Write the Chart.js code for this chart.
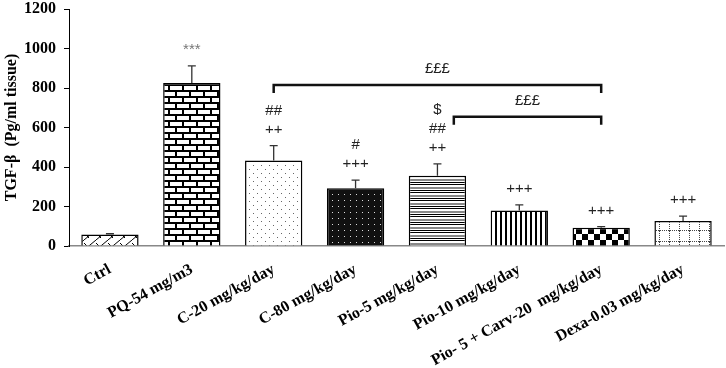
<!DOCTYPE html>
<html lang="en">
  <head>
    <meta charset="UTF-8">
    <title>TGF-beta bar chart</title>
    <script src="https://cdn.jsdelivr.net/npm/chart.js"></script>
    <style>
      html, body { margin: 0; padding: 0; background: #fff; }
      #wrap { width: 726px; height: 368px; }
    </style>
  </head>
  <body>
    <div id="wrap"><canvas id="myChart"></canvas></div>
    <script>
      // Data
      const groups = ["Ctrl", "PQ-54 mg/m3", "C-20 mg/kg/day", "C-80 mg/kg/day", "Pio-5 mg/kg/day",
                      "Pio-10 mg/kg/day", "Pio- 5 + Carv-20  mg/kg/day", "Dexa-0.03 mg/kg/day"];
      const means = [58, 825, 433, 292, 356, 180, 92, 127];
      const errors = [4, 87, 75, 42, 60, 28, 6, 24];
      // marks above each bar, listed bottom to top
      const marks = [[], ["***"], ["++", "##"], ["+++", "#"], ["++", "##", "$"], ["+++"], ["+++"], ["+++"]];
      const bracketFrom = [2, 4.2];
      const bracketTo = [6, 6];
      const bracketLevel = [815, 655];
      const bracketText = ["£££", "£££"];
      const yTicks = [0, 200, 400, 600, 800, 1000, 1200];

      const serif = "'Times New Roman', 'Liberation Serif', serif";
      const sans = "'Liberation Sans', 'DejaVu Sans', sans-serif";

      function tile(w, h, draw) {
        const c = document.createElement("canvas");
        c.width = w; c.height = h;
        const g = c.getContext("2d");
        g.fillStyle = "#fff";
        g.fillRect(0, 0, w, h);
        draw(g);
        return document.createElement("canvas").getContext("2d").createPattern(c, "repeat");
      }

      // one fill per bar, following the picture
      const fills = [
        tile(12, 10, g => { // weave / zigzag
          g.strokeStyle = "#000"; g.lineWidth = 1;
          g.beginPath(); g.moveTo(0, 10); g.lineTo(12, 0); g.stroke();
          g.beginPath(); g.moveTo(0, 3); g.lineTo(5, 8); g.stroke();
        }),
        tile(14, 12, g => { // bricks
          g.fillStyle = "#000";
          g.fillRect(0, 0, 14, 2); g.fillRect(0, 6, 14, 2);
          g.fillRect(0, 0, 2, 6); g.fillRect(7, 6, 2, 6);
        }),
        tile(8, 8, g => { // sparse dots
          g.fillStyle = "#666";
          g.fillRect(1, 1, 1, 1); g.fillRect(5, 5, 1, 1);
        }),
        tile(6, 6, g => { // black with white dots
          g.fillStyle = "#111"; g.fillRect(0, 0, 6, 6);
          g.fillStyle = "#ddd"; g.fillRect(2, 2, 1, 1);
        }),
        tile(6, 8, g => { // horizontal stripes
          g.fillStyle = "#000"; g.fillRect(0, 0, 6, 1);
          g.fillStyle = "#888"; g.fillRect(0, 3, 6, 2);
          g.fillStyle = "#000"; g.fillRect(0, 6, 6, 1);
        }),
        tile(5, 4, g => { // vertical stripes
          g.fillStyle = "#000"; g.fillRect(0, 0, 2, 4);
        }),
        tile(12, 12, g => { // checkerboard
          g.fillStyle = "#000"; g.fillRect(0, 0, 6, 6); g.fillRect(6, 6, 6, 6);
        }),
        tile(10, 11, g => { // dotted grid
          g.fillStyle = "#444";
          for (let i = 0; i < 10; i += 2) g.fillRect(i, 10, 1, 1);
          for (let j = 0; j < 11; j += 2) g.fillRect(9, j, 1, 1);
        })
      ];

      const extras = {
        id: "extras",
        afterDatasetsDraw(chart) {
          const ctx = chart.ctx;
          const x = chart.scales.x, y = chart.scales.y;
          ctx.save();
          // error bars (upper only)
          ctx.strokeStyle = "#333"; ctx.lineWidth = 1.3;
          means.forEach((m, i) => {
            const px = x.getPixelForValue(i);
            const top = y.getPixelForValue(m + errors[i]);
            ctx.beginPath();
            ctx.moveTo(px, y.getPixelForValue(m)); ctx.lineTo(px, top);
            ctx.moveTo(px - 4, top); ctx.lineTo(px + 4, top);
            ctx.stroke();
            // significance marks
            ctx.font = "15px " + sans;
            ctx.textAlign = "center"; ctx.textBaseline = "middle";
            marks[i].forEach((t, k) => {
              ctx.fillStyle = t === "***" ? "#777" : "#222";
              ctx.fillText(t, px, top - 16 - k * 19);
            });
          });
          // brackets
          ctx.strokeStyle = "#111"; ctx.lineWidth = 2.5;
          bracketFrom.forEach((f, i) => {
            const x1 = x.getPixelForValue(f), x2 = x.getPixelForValue(bracketTo[i]);
            const py = y.getPixelForValue(bracketLevel[i]);
            ctx.beginPath();
            ctx.moveTo(x1, py + 8); ctx.lineTo(x1, py); ctx.lineTo(x2, py); ctx.lineTo(x2, py + 8);
            ctx.stroke();
            ctx.fillStyle = "#222";
            ctx.font = "15px " + sans;
            ctx.fillText(bracketText[i], (x1 + x2) / 2, py - 16);
          });
          ctx.restore();
        }
      };

      new Chart(document.getElementById("myChart"), {
        type: "bar",
        data: {
          labels: groups,
          datasets: [{
            data: means,
            backgroundColor: fills,
            borderColor: "#000",
            borderWidth: 1.5,
            categoryPercentage: 0.7,
            barPercentage: 1.0
          }]
        },
        options: {
          responsive: true,
          maintainAspectRatio: false,
          animation: false,
          layout: { padding: { top: 9, right: 2 } },
          plugins: { legend: { display: false }, tooltip: { enabled: false } },
          scales: {
            x: {
              grid: { display: false },
              border: { color: "#888", width: 1.5 },
              ticks: {
                color: "#000", autoSkip: false, maxRotation: 29, minRotation: 29, padding: 6,
                font: { family: serif, size: 16, weight: "bold" }
              },
              afterFit: s => { s.height = 122; }
            },
            y: {
              min: 0, max: 1200,
              afterBuildTicks: s => { s.ticks = yTicks.map(v => ({ value: v })); },
              grid: { drawOnChartArea: false, tickLength: 5, color: "#000" },
              border: { color: "#000", width: 1 },
              ticks: {
                color: "#000", padding: 8,
                callback: v => String(v),
                font: { family: serif, size: 16, weight: "bold" }
              },
              title: {
                display: true, text: "TGF-β  (Pg/ml tissue)", color: "#000",
                font: { family: serif, size: 16, weight: "bold" }, padding: { top: 2, bottom: 0 }
              },
              afterFit: s => { s.width = 69; s.paddingTop = 0; }
            }
          }
        },
        plugins: [extras]
      });
    </script>
  </body>
</html>
